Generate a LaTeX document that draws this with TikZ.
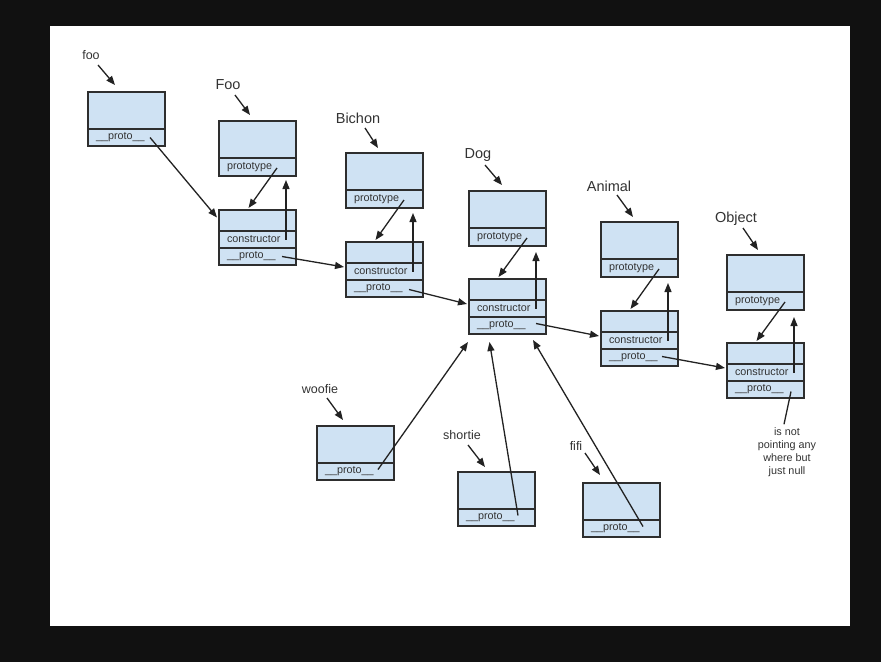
\documentclass[tikz,border=0pt]{standalone}
\usepackage{fontspec}
\setmainfont{Liberation Sans}
\usetikzlibrary{positioning,arrows.meta}
\definecolor{bgdark}{HTML}{111111}
\definecolor{boxfill}{HTML}{CFE2F3}
\definecolor{boxline}{HTML}{2E2E2E}
\definecolor{inktxt}{HTML}{333333}
\definecolor{inkline}{HTML}{222222}
\begin{document}
\begin{tikzpicture}[x=1pt,y=-1pt,
    cell/.style={draw=boxline, fill=boxfill, line width=1.4pt, minimum width=77pt, text width=61pt,
      inner xsep=8pt, inner ysep=1pt, outer sep=0pt, align=left, text=inktxt,
      font=\fontsize{10.8}{12}\selectfont},
    headcell/.style={cell, minimum height=37pt, anchor=north west},
    ctorcell/.style={cell, minimum height=21pt, anchor=north west},
    slotcell/.style={cell, minimum height=17pt},
    biglbl/.style={text=inktxt, inner sep=0pt, font=\fontsize{14.5}{16}\selectfont},
    smalllbl/.style={text=inktxt, inner sep=0pt, font=\fontsize{12.5}{14}\selectfont},
    ptr/.style={draw=inkline, line width=1.3pt, -{Triangle[length=9pt,width=7pt]}}]
    % frame
    \fill[bgdark] (0,0) rectangle (881,662);
    \fill[white] (50,26) rectangle (850,626);
    % foo
    \node[smalllbl] (fooL) at (91,55) {foo};
    \node[headcell] (fooT) at (88,92) {};
    \node[slotcell, below=0pt of fooT] (fooP) {\_\_proto\_\_};
    % Foo
    \node[biglbl] (FooL) at (228,85) {Foo};
    \node[headcell] (FooT) at (219,121) {};
    \node[slotcell, minimum height=18pt, below=0pt of FooT] (FooPt) {prototype};
    \node[ctorcell] (FooCt) at (219,210) {};
    \node[slotcell, below=0pt of FooCt] (FooCc) {constructor};
    \node[slotcell, below=0pt of FooCc] (FooCp) {\_\_proto\_\_};
    % Bichon
    \node[biglbl] (BiL) at (358,118) {Bichon};
    \node[headcell] (BiT) at (346,153) {};
    \node[slotcell, minimum height=18pt, below=0pt of BiT] (BiPt) {prototype};
    \node[ctorcell] (BiCt) at (346,242) {};
    \node[slotcell, below=0pt of BiCt] (BiCc) {constructor};
    \node[slotcell, below=0pt of BiCc] (BiCp) {\_\_proto\_\_};
    % Dog
    \node[biglbl] (DogL) at (478,155) {Dog};
    \node[headcell] (DogT) at (469,191) {};
    \node[slotcell, minimum height=18pt, below=0pt of DogT] (DogPt) {prototype};
    \node[ctorcell] (DogCt) at (469,279) {};
    \node[slotcell, below=0pt of DogCt] (DogCc) {constructor};
    \node[slotcell, below=0pt of DogCc] (DogCp) {\_\_proto\_\_};
    % Animal
    \node[biglbl] (AniL) at (609,186) {Animal};
    \node[headcell] (AniT) at (601,222) {};
    \node[slotcell, minimum height=18pt, below=0pt of AniT] (AniPt) {prototype};
    \node[ctorcell] (AniCt) at (601,311) {};
    \node[slotcell, below=0pt of AniCt] (AniCc) {constructor};
    \node[slotcell, below=0pt of AniCc] (AniCp) {\_\_proto\_\_};
    % Object
    \node[biglbl] (ObjL) at (736,219) {Object};
    \node[headcell] (ObjT) at (727,255) {};
    \node[slotcell, minimum height=18pt, below=0pt of ObjT] (ObjPt) {prototype};
    \node[ctorcell] (ObjCt) at (727,343) {};
    \node[slotcell, below=0pt of ObjCt] (ObjCc) {constructor};
    \node[slotcell, below=0pt of ObjCc] (ObjCp) {\_\_proto\_\_};
    \node[text=inktxt, inner sep=0pt, align=center, font=\fontsize{10.8}{13}\selectfont] (nullnote) at (787,452)
      {is not\\pointing any\\where but\\just null};
    % instances of Dog
    \node[smalllbl] (woofieL) at (320,389) {woofie};
    \node[headcell] (woofieT) at (317,426) {};
    \node[slotcell, below=0pt of woofieT] (woofieP) {\_\_proto\_\_};
    \node[smalllbl] (shortieL) at (462,435) {shortie};
    \node[headcell] (shortieT) at (458,472) {};
    \node[slotcell, below=0pt of shortieT] (shortieP) {\_\_proto\_\_};
    \node[smalllbl] (fifiL) at (576,446) {fifi};
    \node[headcell] (fifiT) at (583,483) {};
    \node[slotcell, below=0pt of fifiT] (fifiP) {\_\_proto\_\_};
    % name arrows
    \draw[ptr] ([shift={(7,10)}]fooL.center) -- ([shift={(27,-7)}]fooT.north west);
    \draw[ptr] ([shift={(7,10)}]FooL.center) -- ([shift={(31,-6)}]FooT.north west);
    \draw[ptr] ([shift={(7,10)}]BiL.center) -- ([shift={(32,-5)}]BiT.north west);
    \draw[ptr] ([shift={(7,10)}]DogL.center) -- ([shift={(33,-6)}]DogT.north west);
    \draw[ptr] ([shift={(8,9)}]AniL.center) -- ([shift={(32,-5)}]AniT.north west);
    \draw[ptr] ([shift={(7,9)}]ObjL.center) -- ([shift={(31,-5)}]ObjT.north west);
    \draw[ptr] ([shift={(7,9)}]woofieL.center) -- ([shift={(26,-6)}]woofieT.north west);
    \draw[ptr] ([shift={(6,10)}]shortieL.center) -- ([shift={(27,-5)}]shortieT.north west);
    \draw[ptr] ([shift={(9,7)}]fifiL.center) -- ([shift={(17,-8)}]fifiT.north west);
    % prototype -> constructor, constructor -> prototype
    \draw[ptr] ([shift={(-19,1)}]FooPt.east) -- ([shift={(-9,-2)}]FooCt.north);
    \draw[ptr] ([shift={(-10,0)}]FooCc.east) -- ([shift={(-10,4)}]FooPt.south east);
    \draw[ptr] ([shift={(-19,1)}]BiPt.east) -- ([shift={(-9,-2)}]BiCt.north);
    \draw[ptr] ([shift={(-10,0)}]BiCc.east) -- ([shift={(-10,5)}]BiPt.south east);
    \draw[ptr] ([shift={(-19,1)}]DogPt.east) -- ([shift={(-9,-2)}]DogCt.north);
    \draw[ptr] ([shift={(-10,0)}]DogCc.east) -- ([shift={(-10,6)}]DogPt.south east);
    \draw[ptr] ([shift={(-19,1)}]AniPt.east) -- ([shift={(-9,-2)}]AniCt.north);
    \draw[ptr] ([shift={(-10,0)}]AniCc.east) -- ([shift={(-10,6)}]AniPt.south east);
    \draw[ptr] ([shift={(-19,1)}]ObjPt.east) -- ([shift={(-9,-2)}]ObjCt.north);
    \draw[ptr] ([shift={(-10,0)}]ObjCc.east) -- ([shift={(-10,7)}]ObjPt.south east);
    % __proto__ chain
    \draw[ptr] ([shift={(-15,0)}]fooP.east) -- ([shift={(-2,-3)}]FooCt.west);
    \draw[ptr] ([shift={(-14,0)}]FooCp.east) -- ([shift={(-2,4)}]BiCc.north west);
    \draw[ptr] ([shift={(-14,1)}]BiCp.east) -- ([shift={(-2,4)}]DogCc.north west);
    \draw[ptr] ([shift={(-10,-2)}]DogCp.east) -- ([shift={(-2,4)}]AniCc.north west);
    \draw[ptr] ([shift={(-16,-1)}]AniCp.east) -- ([shift={(-2,4)}]ObjCc.north west);
    \draw[draw=inkline, line width=1.3pt] ([shift={(-13,2)}]ObjCp.east) -- ([shift={(-3,-3)}]nullnote.north);
    \draw[ptr] ([shift={(-16,-2)}]woofieP.east) -- ([shift={(-1,8)}]DogCp.south west);
    \draw[ptr] ([shift={(-17,-2)}]shortieP.east) -- ([shift={(-18,8)}]DogCp.south);
    \draw[ptr] ([shift={(-17,-2)}]fifiP.east) -- ([shift={(-13,6)}]DogCp.south east);
\end{tikzpicture}
\end{document}
